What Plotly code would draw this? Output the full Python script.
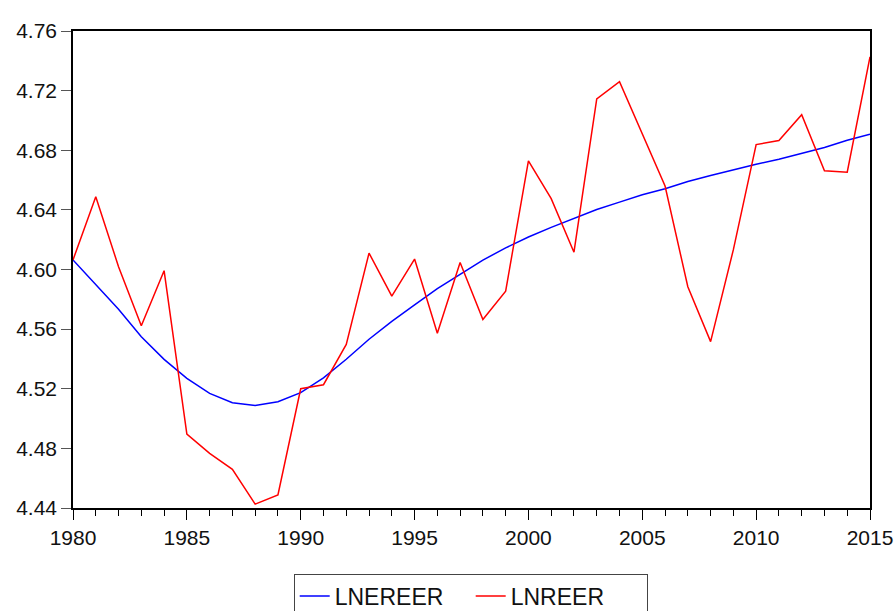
import plotly.graph_objects as go

years = list(range(1980, 2016))
lnereer = [4.6064, 4.5900, 4.5733, 4.5549, 4.5397, 4.5270, 4.5169, 4.5106, 4.5088, 4.5113,
           4.5174, 4.5273, 4.5398, 4.5532, 4.5652, 4.5763, 4.5871, 4.5967, 4.6063, 4.6145,
           4.6218, 4.6283, 4.6345, 4.6403, 4.6452, 4.6502, 4.6542, 4.6590, 4.6630, 4.6669,
           4.6706, 4.6740, 4.6780, 4.6819, 4.6867, 4.6907]
lnreer = [4.6064, 4.6488, 4.6019, 4.5623, 4.5992, 4.4896, 4.4766, 4.4659, 4.4426, 4.4487,
          4.5200, 4.5227, 4.5497, 4.6110, 4.5821, 4.6070, 4.5572, 4.6047, 4.5664, 4.5855,
          4.6729, 4.6475, 4.6116, 4.7145, 4.7260, 4.6907, 4.6560, 4.5884, 4.5516, 4.6133,
          4.6838, 4.6865, 4.7038, 4.6662, 4.6653, 4.7427]
y_ticks = [4.44, 4.48, 4.52, 4.56, 4.60, 4.64, 4.68, 4.72, 4.76]
x_ticks = [1980, 1985, 1990, 1995, 2000, 2005, 2010, 2015]

fig = go.Figure()
fig.add_trace(go.Scatter(x=years, y=lnereer, mode="lines", name="LNEREER",
                         line=dict(color="#0000ff", width=1.5)))
fig.add_trace(go.Scatter(x=years, y=lnreer, mode="lines", name="LNREER",
                         line=dict(color="#ff0000", width=1.5)))

fam = "Liberation Sans, Arial, sans-serif"
fig.update_layout(
    width=895, height=611,
    margin=dict(l=73, r=25, t=31, b=103, autoexpand=False),
    paper_bgcolor="white", plot_bgcolor="white",
    font=dict(family=fam, size=20, color="#111"),
    showlegend=True,
    legend=dict(orientation="h", x=0.499, xanchor="center", y=-0.1374, yanchor="top",
                bordercolor="#444", borderwidth=1, bgcolor="white",
                font=dict(family=fam, size=23, color="#111"), tracegroupgap=0,
                entrywidth=131, entrywidthmode="pixels"),
)
fig.update_xaxes(range=[1980, 2015], tickvals=x_ticks, ticktext=[str(v) for v in x_ticks],
                 automargin=False,
                 showgrid=False, zeroline=False, showline=True, linecolor="black", linewidth=1.5,
                 mirror=True, ticks="outside", ticklen=10, tickcolor="black", tickwidth=1,
                 minor=dict(dtick=1, tick0=1980, ticks="outside", ticklen=6, tickcolor="black",
                            tickwidth=1, showgrid=False),
                 tickfont=dict(family=fam, size=21, color="#111"))
fig.update_yaxes(range=[4.44, 4.76], tickvals=y_ticks, ticktext=[f"{v:.2f}" for v in y_ticks],
                 automargin=False,
                 showgrid=False, zeroline=False, showline=True, linecolor="black", linewidth=1.5,
                 mirror=True, ticks="outside", ticklen=10, tickcolor="#555", tickwidth=1,
                 tickfont=dict(family=fam, size=21, color="#111"))

fig.write_html("out.html", config={"displayModeBar": False},
               post_script="document.body.style.margin='0';document.body.style.overflow='hidden';")
